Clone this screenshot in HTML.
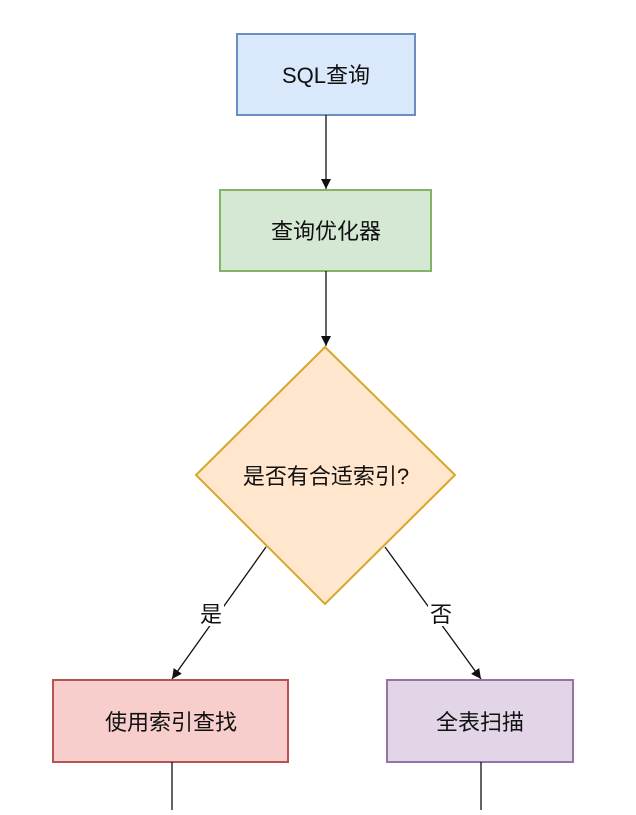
<!DOCTYPE html>
<html><head><meta charset="utf-8"><style>
body{margin:0;background:#fff;}
text{font-family:"Liberation Sans","Noto Sans CJK SC",sans-serif;font-size:22px;fill:#111;}
</style></head><body>
<svg width="636" height="810" viewBox="0 0 636 810" xmlns="http://www.w3.org/2000/svg">
<defs><marker id="a" markerWidth="12" markerHeight="12" refX="10" refY="5" orient="auto" markerUnits="userSpaceOnUse"><path d="M0,0 L10,5 L0,10 Z" fill="#111"/></marker></defs>
<rect x="237" y="34" width="178" height="81" fill="#dae8fc" stroke="#6c8ebf" stroke-width="2"/>
<text x="326" y="83" text-anchor="middle">SQL查询</text>
<line x1="326" y1="115" x2="326" y2="189" stroke="#111" stroke-width="1.3" marker-end="url(#a)"/>
<rect x="220" y="190" width="211" height="81" fill="#d5e8d4" stroke="#82b366" stroke-width="2"/>
<text x="326" y="239" text-anchor="middle">查询优化器</text>
<line x1="326" y1="271" x2="326" y2="346" stroke="#111" stroke-width="1.3" marker-end="url(#a)"/>
<polygon points="325,347 455,475 325,604 196,475" fill="#ffe6cc" stroke="#d6a72b" stroke-width="2"/>
<text x="326" y="484" text-anchor="middle">是否有合适索引?</text>
<line x1="266" y1="547" x2="172" y2="679" stroke="#111" stroke-width="1.3" marker-end="url(#a)"/>
<rect x="198" y="600" width="26" height="26" fill="#fff"/>
<text x="211" y="622" text-anchor="middle">是</text>
<line x1="385" y1="547" x2="481" y2="679" stroke="#111" stroke-width="1.3" marker-end="url(#a)"/>
<rect x="428" y="600" width="26" height="26" fill="#fff"/>
<text x="441" y="622" text-anchor="middle">否</text>
<rect x="53" y="680" width="235" height="82" fill="#f8cecc" stroke="#b85450" stroke-width="2"/>
<text x="171" y="730" text-anchor="middle">使用索引查找</text>
<rect x="387" y="680" width="186" height="82" fill="#e1d5e7" stroke="#9673a6" stroke-width="2"/>
<text x="480" y="730" text-anchor="middle">全表扫描</text>
<line x1="172" y1="762" x2="172" y2="810" stroke="#111" stroke-width="1.3"/>
<line x1="481" y1="762" x2="481" y2="810" stroke="#111" stroke-width="1.3"/>
</svg>
</body></html>
